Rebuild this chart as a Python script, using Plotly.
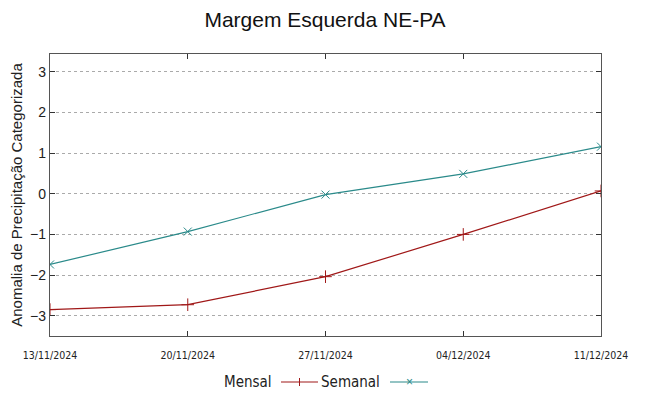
import plotly.graph_objects as go

dates = ["13/11/2024", "20/11/2024", "27/11/2024", "04/12/2024", "11/12/2024"]
mensal = [-2.85, -2.73, -2.04, -1.0, 0.07]
semanal = [-1.74, -0.93, -0.02, 0.49, 1.16]
yticks = [-3, -2, -1, 0, 1, 2, 3]

red = "#a01818"
teal = "#2a8a8a"

fig = go.Figure()
fig.add_trace(go.Scatter(x=list(range(len(dates))), y=mensal, mode="lines+markers", name="Mensal",
                         line=dict(color=red, width=1.2),
                         marker=dict(symbol="cross-thin", size=9, line=dict(color=red, width=1))))
fig.add_trace(go.Scatter(x=list(range(len(dates))), y=semanal, mode="lines+markers", name="Semanal",
                         line=dict(color=teal, width=1.2),
                         marker=dict(symbol="x-thin", size=8, line=dict(color=teal, width=1))))

# page has an 8px body margin; work in page pixels and convert
OFF = 8
W, H = 649 - OFF, 396 - OFF
L, R, T, B = 50 - OFF, 601 - OFF, 54 - OFF, 336 - OFF

fig.update_layout(
    width=W, height=H,
    margin=dict(l=L, r=W - R, t=T, b=H - B, autoexpand=False),
    paper_bgcolor="white", plot_bgcolor="white",
    showlegend=False,
    font=dict(family="Liberation Sans", color="#222"),
    title=dict(text="Margem Esquerda NE-PA", x=(325 - OFF) / W, xanchor="center", y=1 - (20 - OFF) / H,
               yanchor="middle", font=dict(size=21, color="#111")),
)
narrow = "Liberation Sans Narrow, DejaVu Sans Condensed, Liberation Sans"
fig.update_xaxes(
    range=[0, len(dates) - 1], tickmode="array", tickvals=list(range(len(dates))), ticktext=dates,
    showgrid=False, zeroline=False, showline=True, mirror="ticks", linecolor="#555", linewidth=1.3,
    ticks="inside", ticklen=5, tickcolor="#333", automargin=False, ticklabelstandoff=9,
    tickfont=dict(family=narrow, size=10.5, color="#222"),
)
fig.update_yaxes(
    range=[-3.5, 3.44], tickmode="array", tickvals=yticks,
    showgrid=True, gridcolor="#aaaaaa", griddash="dot", gridwidth=1,
    zeroline=False, showline=True, mirror="ticks", linecolor="#555", linewidth=1.3,
    ticks="inside", ticklen=5, tickcolor="#333", automargin=False,
    tickfont=dict(size=14, color="#222"),
    title=dict(text="Anomalia de Precipitação Categorizada", font=dict(size=15, color="#222"), standoff=8),
)

# legend drawn below plot, text before sample like the reference
def px(xp):
    return (xp - 50) / (601 - 50)

def py(yp):
    return (336 - yp) / (336 - 54)

ly = 382
leg_font = dict(size=15, family=narrow, color="#222")
fig.add_annotation(text="Mensal", x=px(274), y=py(ly), xref="paper", yref="paper", xanchor="right",
                   yanchor="middle", showarrow=False, font=leg_font)
fig.add_shape(type="line", xref="paper", yref="paper", x0=px(281), x1=px(318), y0=py(ly), y1=py(ly),
              line=dict(color=red, width=1.2))
fig.add_shape(type="line", xref="paper", yref="paper", x0=px(299.5), x1=px(299.5), y0=py(ly - 4), y1=py(ly + 4),
              line=dict(color=red, width=1))
fig.add_annotation(text="Semanal", x=px(382), y=py(ly), xref="paper", yref="paper", xanchor="right",
                   yanchor="middle", showarrow=False, font=leg_font)
fig.add_shape(type="line", xref="paper", yref="paper", x0=px(390), x1=px(428), y0=py(ly), y1=py(ly),
              line=dict(color=teal, width=1.2))
fig.add_annotation(text="×", x=px(409), y=py(ly), xref="paper", yref="paper", xanchor="center",
                   yanchor="middle", showarrow=False, font=dict(size=12, color=teal))

fig.write_html("out.html")
